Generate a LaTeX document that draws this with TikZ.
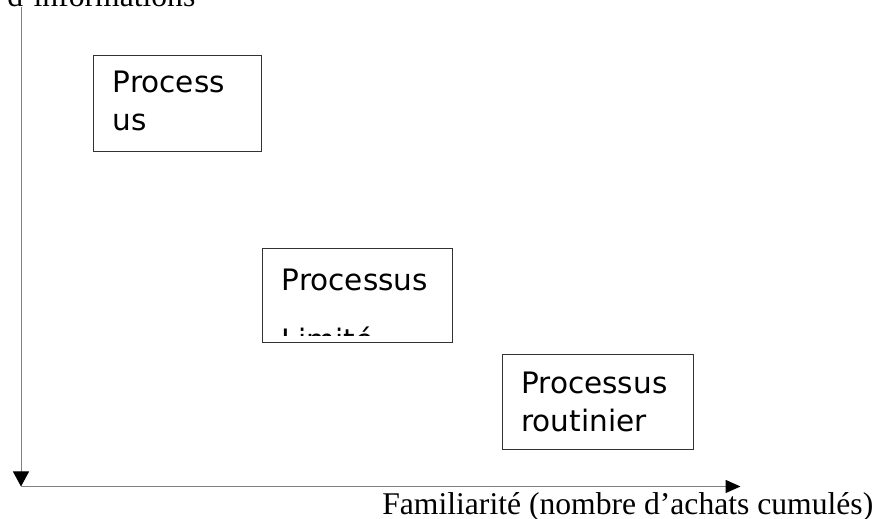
\documentclass[tikz,border=0pt]{standalone}
\usepackage{fontspec}
\setmainfont{Liberation Serif}
\newfontfamily\boxsans{DejaVu Sans}
\usetikzlibrary{arrows.meta, positioning}
\definecolor{axisgray}{RGB}{128,128,128}
\definecolor{framegray}{RGB}{50,50,50}
\tikzset{
  procbox/.style={rectangle, draw=framegray, line width=0.02cm,
                  inner sep=0pt, anchor=north west},
  proctext/.style={anchor=north west, inner sep=0pt, align=left,
                   font=\boxsans\fontsize{16.8}{21.6}\selectfont},
  axislbl/.style={inner sep=0pt, anchor=base west,
                  font=\fontsize{18}{22}\selectfont},
  axisline/.style={draw=axisgray}
}

\begin{document}
\begin{tikzpicture}[x=0.02cm, y=-0.02cm]
  \clip (0,0) rectangle (887,519);

  % Axes
  \coordinate (ytop)   at (21,7);
  \coordinate (origin) at (21,486.5);
  \coordinate (xend)   at (740.5,486.5);
  \draw[axisline, line width=0.02cm,
        -{Triangle[length=0.3cm, width=0.32cm, color=black]}] (ytop) -- (origin);
  \draw[axisline, line width=0.03cm,
        -{Triangle[length=0.3cm, width=0.26cm, color=black]}] (origin) -- (xend);

  \node[axislbl] (ylbl) at (7,7) {d’informations};
  \node[axislbl] (xlbl) at (382,515) {Familiarité (nombre d’achats cumulés)};

  % Boxes
  \node[procbox, minimum width=3.36cm, minimum height=1.92cm] (ext) at (93,55) {};
  \node[proctext] (extTxt) at ([xshift=0.39cm, yshift=-0.31cm]ext.north west) {Process\\us};

  \node[procbox, minimum width=3.8cm, minimum height=1.88cm] (lim) at (262,248) {};
  \begin{scope}
    \clip (lim.north west) rectangle ([yshift=0.14cm]lim.south east);
    \node[proctext, font=\boxsans\fontsize{16.8}{34.1}\selectfont] (limTxt)
      at ([xshift=0.39cm, yshift=-0.41cm]lim.north west) {Processus\\Limité};
  \end{scope}

  \node[procbox, minimum width=3.82cm, minimum height=1.9cm] (rout) at (502,354) {};
  \node[proctext] (routTxt) at ([xshift=0.38cm, yshift=-0.36cm]rout.north west) {Processus\\routinier};

\end{tikzpicture}
\end{document}
